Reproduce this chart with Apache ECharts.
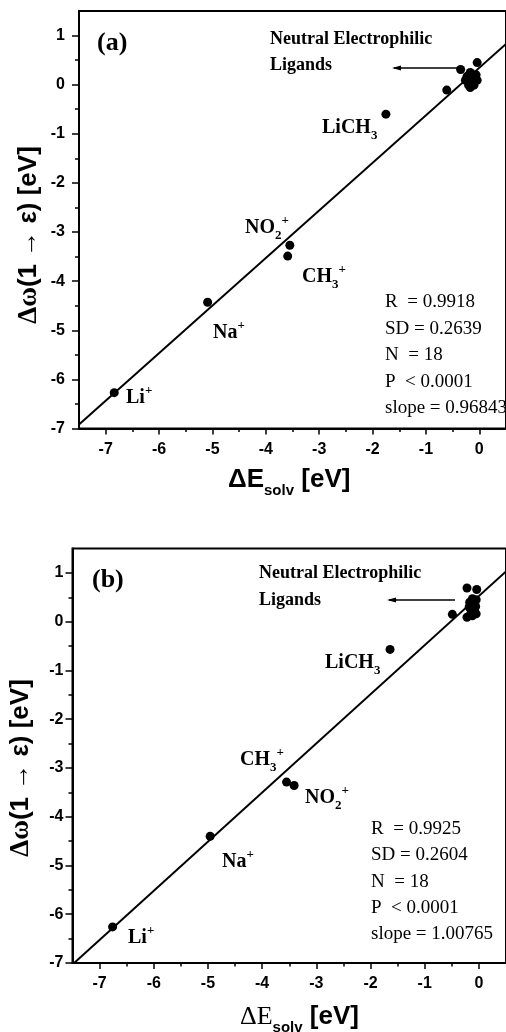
<!DOCTYPE html>
<html><head><meta charset="utf-8">
<script src="https://cdn.jsdelivr.net/npm/echarts@6/dist/echarts.min.js"></script>
<style>html,body{margin:0;padding:0;background:#fff}#c{width:506px;height:1032px}</style>
</head><body><div id="c"></div>
<script>
// ---- Panel (a) data ----
const aX = [-6.84, -5.09, -3.55, -3.59, -1.75, -0.61, -0.35, -0.04, -0.26, -0.17, -0.11, -0.06, -0.20, -0.10, -0.23, -0.14, -0.04, -0.17];
const aY = [-6.27, -4.43, -3.27, -3.49, -0.60, -0.11, 0.31, 0.45, 0.09, 0.25, 0.16, 0.20, -0.01, -0.01, 0.17, 0.05, 0.09, -0.06];
const aFitX = [-7.5, 0.5];
const aFitY = [-6.92, 0.83];
const aStats = ['R  = 0.9918', 'SD = 0.2639', 'N  = 18', 'P  < 0.0001', 'slope = 0.96843'];
// ---- Panel (b) data ----
const bX = [-6.76, -4.96, -3.55, -3.41, -1.64, -0.49, -0.22, -0.04, -0.12, -0.05, -0.18, -0.09, -0.22, -0.06, -0.15, -0.05, -0.17, -0.12];
const bY = [-6.26, -4.40, -3.29, -3.36, -0.57, 0.15, 0.69, 0.66, 0.47, 0.45, 0.30, 0.24, 0.09, 0.31, 0.17, 0.16, 0.40, 0.12];
const bFitX = [-7.47, 0.5];
const bFitY = [-7.0, 1.03];
const bStats = ['R  = 0.9925', 'SD = 0.2604', 'N  = 18', 'P  < 0.0001', 'slope = 1.00765'];
// ---- ticks ----
const xMajorTicks = [-7, -6, -5, -4, -3, -2, -1, 0];
const xMinorTicks = [-6.5, -5.5, -4.5, -3.5, -2.5, -1.5, -0.5];
const yMajorTicks = [-7, -6, -5, -4, -3, -2, -1, 0, 1];
const yMinorTicks = [-6.5, -5.5, -4.5, -3.5, -2.5, -1.5, -0.5, 0.5];

const BLK = '#000';
const fmt = v => (Math.abs(v - Math.round(v)) < 1e-9 ? String(Math.round(v)) : '');

function xAxes(g, margin) {
  return [
    { gridIndex: g, type: 'value', min: -7.5, max: 0.5, interval: 0.5, position: 'bottom',
      axisLine: { show: true, onZero: false, lineStyle: { color: BLK, width: 2 } },
      axisTick: { show: true, inside: false, length: 6, customValues: xMajorTicks, lineStyle: { color: BLK, width: 1.5 } },
      axisLabel: { show: true, customValues: xMajorTicks, formatter: fmt, fontSize: 16, fontWeight: 'bold', color: BLK, fontFamily: 'Liberation Sans', margin: margin },
      splitLine: { show: false } },
    { gridIndex: g, type: 'value', min: -7.5, max: 0.5, interval: 0.5, position: 'bottom',
      axisLine: { show: false, onZero: false },
      axisTick: { show: true, inside: false, length: 3.5, customValues: xMinorTicks, lineStyle: { color: BLK, width: 1.5 } },
      axisLabel: { show: false }, splitLine: { show: false } }
  ];
}
function yAxes(g, margin) {
  return [
    { gridIndex: g, type: 'value', min: -7, max: 1.5, interval: 0.5, position: 'left',
      axisLine: { show: true, onZero: false, lineStyle: { color: BLK, width: 2 } },
      axisTick: { show: true, inside: false, length: 7, customValues: yMajorTicks, lineStyle: { color: BLK, width: 1.5 } },
      axisLabel: { show: true, customValues: yMajorTicks, formatter: fmt, fontSize: 16, fontWeight: 'bold', color: BLK, fontFamily: 'Liberation Sans', margin: margin },
      splitLine: { show: false } },
    { gridIndex: g, type: 'value', min: -7, max: 1.5, interval: 0.5, position: 'left',
      axisLine: { show: false, onZero: false },
      axisTick: { show: true, inside: false, length: 4, customValues: yMinorTicks, lineStyle: { color: BLK, width: 1.5 } },
      axisLabel: { show: false }, splitLine: { show: false } }
  ];
}

const SERIF = 'Liberation Serif';
const richLbl = {
  m: { fontFamily: SERIF, fontWeight: 'bold', fontSize: 20, lineHeight: 28, color: BLK },
  sb: { fontFamily: SERIF, fontWeight: 'bold', fontSize: 13, lineHeight: 13, verticalAlign: 'bottom', color: BLK },
  sp: { fontFamily: SERIF, fontWeight: 'bold', fontSize: 13, lineHeight: 13, verticalAlign: 'top', color: BLK }
};
function lbl(x, y, text) {
  return { type: 'text', x: x, y: y, z: 10, style: { text: text, rich: richLbl, align: 'left', verticalAlign: 'middle' } };
}
function plain(x, y, text, font, lh, align, va) {
  return { type: 'text', x: x, y: y, z: 10, style: { text: text, font: font, lineHeight: lh, fill: BLK, align: align || 'left', verticalAlign: va || 'top' } };
}
function arrow(x1, x2, y) {
  return [
    { type: 'line', z: 10, shape: { x1: x1 + 2, y1: y, x2: x2, y2: y }, style: { stroke: BLK, lineWidth: 1.3 } },
    { type: 'polygon', z: 10, shape: { points: [[x1, y], [x1 + 9, y - 2.5], [x1 + 9, y + 2.5]] }, style: { fill: BLK } }
  ];
}
function yTitle(x, y) {
  return { type: 'text', x: x, y: y, rotation: Math.PI / 2, z: 10,
    style: { text: '{s|Δω}{b|(1 → ε) [eV]}', align: 'center', verticalAlign: 'middle',
      rich: { s: { fontFamily: SERIF, fontSize: 27, fontWeight: 'bold', color: BLK },
              b: { fontFamily: 'Liberation Sans', fontSize: 26, fontWeight: 'bold', color: BLK } } } };
}
function xTitle(x, y, deltaFont) {
  return { type: 'text', x: x, y: y, z: 10,
    style: { text: '{d|ΔE}{s|solv}{a| [eV]}', align: 'left', verticalAlign: 'middle',
      rich: { d: { font: deltaFont, lineHeight: 36, color: BLK },
              a: { fontFamily: 'Liberation Sans', fontSize: 26, fontWeight: 'bold', lineHeight: 36, color: BLK },
              s: { fontFamily: 'Liberation Sans', fontSize: 15, fontWeight: 'bold', lineHeight: 16, verticalAlign: 'bottom', color: BLK } } } };
}

const graphics = [
  plain(97, 43, '(a)', 'bold 26px "Liberation Serif"', 30, 'left', 'middle'),
  plain(270, 26, 'Neutral Electrophilic\nLigands', 'bold 18px "Liberation Serif"', 26, 'left', 'top'),
  ...arrow(392, 457, 68),
  lbl(322, 128, '{m|LiCH}{sb|3}'),
  lbl(245, 228, '{m|NO}{sb|2}{sp|+}'),
  lbl(302, 277, '{m|CH}{sb|3}{sp|+}'),
  lbl(213, 333, '{m|Na}{sp|+}'),
  lbl(126, 398, '{m|Li}{sp|+}'),
  plain(385, 289, aStats.join('\n'), '19px "Liberation Serif"', 26.5, 'left', 'top'),
  yTitle(29, 235),
  xTitle(228, 480, 'bold 26px "Liberation Sans"'),

  plain(92, 580, '(b)', 'bold 26px "Liberation Serif"', 30, 'left', 'middle'),
  plain(259, 560, 'Neutral Electrophilic\nLigands', 'bold 18px "Liberation Serif"', 27, 'left', 'top'),
  ...arrow(387, 455, 600),
  lbl(325, 663, '{m|LiCH}{sb|3}'),
  lbl(240, 760, '{m|CH}{sb|3}{sp|+}'),
  lbl(305, 798, '{m|NO}{sb|2}{sp|+}'),
  lbl(222, 862, '{m|Na}{sp|+}'),
  lbl(128, 938, '{m|Li}{sp|+}'),
  plain(371, 816, bStats.join('\n'), '19px "Liberation Serif"', 26.3, 'left', 'top'),
  yTitle(21, 768),
  xTitle(240, 1017, '26px "Liberation Serif"')
];

const chart = echarts.init(document.getElementById('c'), null, { renderer: 'canvas' });
chart.setOption({
  animation: false,
  backgroundColor: '#fff',
  grid: [
    { left: 79, top: 11, width: 438, height: 417.5, show: true, borderColor: BLK, borderWidth: 2, backgroundColor: 'transparent', containLabel: false },
    { left: 72.5, top: 548.5, width: 440, height: 414.5, show: true, borderColor: BLK, borderWidth: 2, backgroundColor: 'transparent', containLabel: false }
  ],
  xAxis: [...xAxes(0, 13), ...xAxes(1, 13)],
  yAxis: [...yAxes(0, 14), ...yAxes(1, 9)],
  series: [
    { type: 'line', xAxisIndex: 0, yAxisIndex: 0, data: aFitX.map((x, i) => [x, aFitY[i]]), symbol: 'none', lineStyle: { color: BLK, width: 2 }, z: 2 },
    { type: 'scatter', xAxisIndex: 0, yAxisIndex: 0, data: aX.map((x, i) => [x, aY[i]]), symbolSize: 9, itemStyle: { color: BLK, opacity: 1 }, z: 3 },
    { type: 'line', xAxisIndex: 2, yAxisIndex: 2, data: bFitX.map((x, i) => [x, bFitY[i]]), symbol: 'none', lineStyle: { color: BLK, width: 2 }, z: 2 },
    { type: 'scatter', xAxisIndex: 2, yAxisIndex: 2, data: bX.map((x, i) => [x, bY[i]]), symbolSize: 9, itemStyle: { color: BLK, opacity: 1 }, z: 3 }
  ],
  graphic: graphics
});
</script></body></html>
